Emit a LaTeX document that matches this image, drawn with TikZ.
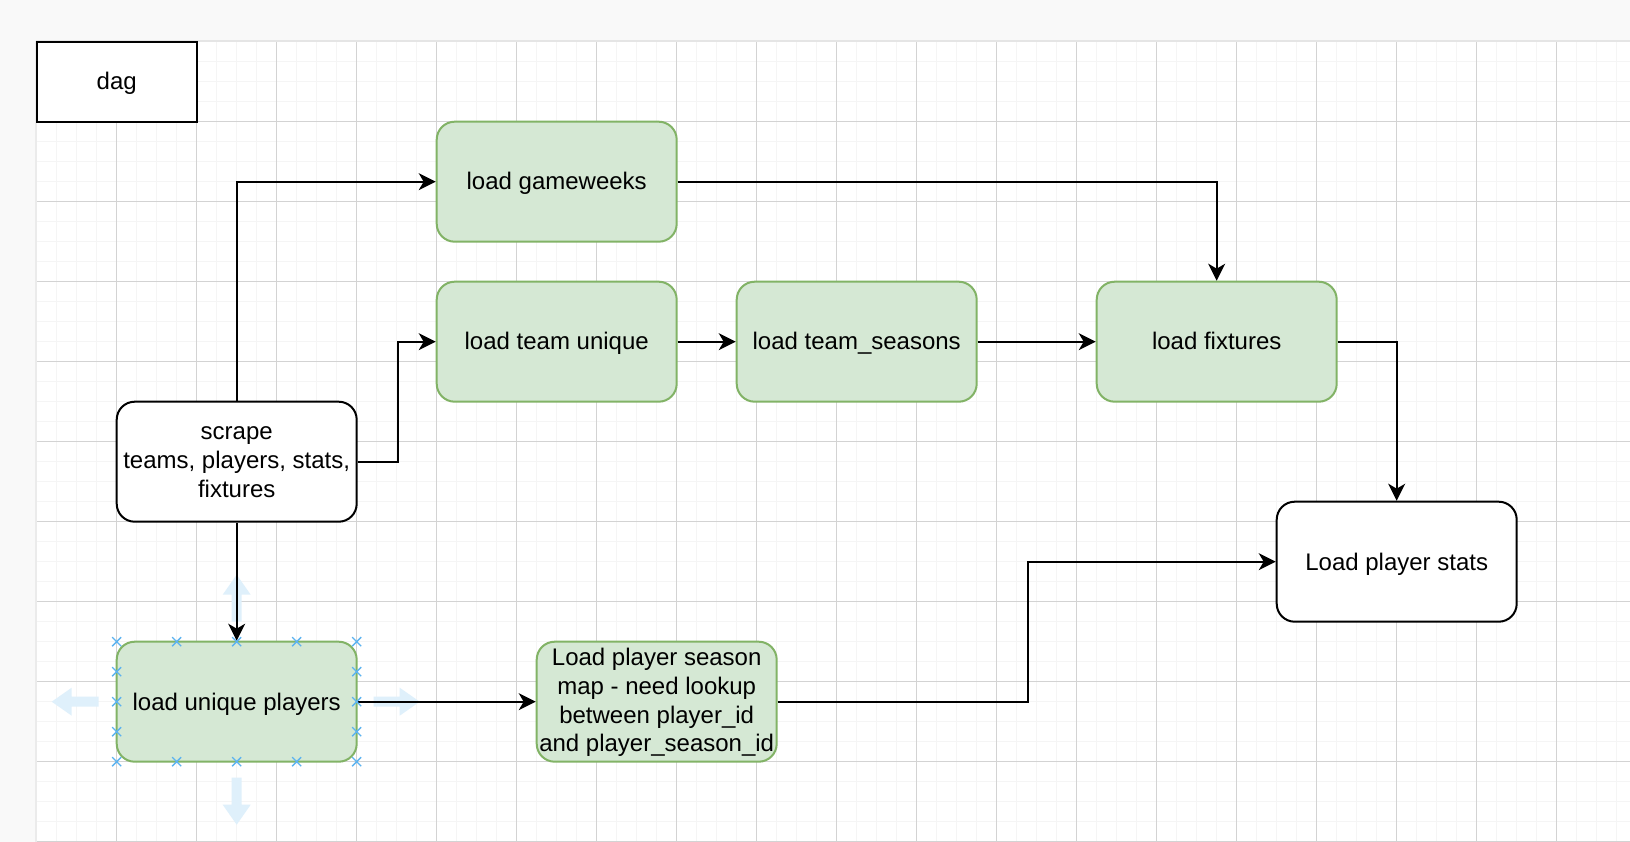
\documentclass[tikz,border=0pt]{standalone}
\usepackage{fontspec}
\setmainfont{Liberation Sans}
\usepackage{tikz}
\usetikzlibrary{arrows.meta}

\definecolor{loadgreen}{HTML}{D5E8D4}
\definecolor{loadborder}{HTML}{82B366}
\definecolor{handleblue}{HTML}{5CB3F0}
\definecolor{hintblue}{HTML}{DFF0FB}
\definecolor{pagegrey}{HTML}{F9F9F9}
\definecolor{gridmajor}{HTML}{D3D3D3}
\definecolor{gridminor}{HTML}{F5F5F5}

\newcommand{\toplinestrut}{\rule{0pt}{20pt}}

\begin{document}
\begin{tikzpicture}[x=1pt, y=-1pt,
	task/.style={draw=black, fill=white, line width=2pt, rounded corners=18pt, minimum width=240pt, minimum height=120pt, align=center, inner sep=2pt, font=\fontsize{24}{28.8}\selectfont,
		execute at begin node={\rule{0pt}{22.7pt}}, execute at end node={\rule[-6.1pt]{0pt}{6.1pt}}},
	loadtask/.style={task, draw=loadborder, fill=loadgreen},
	manylines/.style={inner sep=0pt, execute at begin node={}},
	flow/.style={line width=2pt, -{Stealth[length=17pt, width=17pt, inset=5pt]}},
	hint/.style={fill=hintblue, draw=none},
	handle/.style={handleblue, line width=1.4pt}]
	\useasboundingbox (-36.7,-41.7) rectangle (1593.3,800.3);
	% page and grid
	\fill[pagegrey] (-36.7,-41.7) rectangle (1593.3,800.3);
	\fill[white] (0,0) rectangle (1593.3,800.3);
	\draw[gridminor, line width=1pt, step=20pt] (0,0) grid (1593.3,800);
	\draw[gridmajor, line width=1pt, step=80pt] (0,0) grid (1593.3,800);
	\draw[black!10, line width=1.5pt] (-0.8,-0.8) -- (1593.3,-0.8);
	\draw[black!8, line width=1.5pt] (-0.8,-0.8) -- (-0.8,800.3);
	% tasks
	\node[task, rounded corners=0pt, minimum width=160pt, minimum height=80pt] (dag) at (80,40) {dag};
	\node[loadtask] (gameweeks) at (520,140) {load gameweeks};
	\node[loadtask] (teamunique) at (520,300) {load team unique};
	\node[loadtask] (teamseasons) at (820,300) {load team\_seasons};
	\node[loadtask] (fixtures) at (1180,300) {load fixtures};
	\node[task, manylines] (scrape) at (200,420) {\toplinestrut scrape\\teams, players, stats,\\fixtures};
	\node[task] (playerstats) at (1360,520) {Load player stats};
	\node[loadtask] (uniqueplayers) at (200,660) {load unique players};
	\node[loadtask, manylines] (seasonmap) at (620,660) {\toplinestrut Load player season\\map - need lookup\\between player\_id\\and player\_season\_id};
	% selection hints
	\fill[hint] (195,580) -- (195,553) -- (186,553) -- (200,533) -- (214,553) -- (205,553) -- (205,580) -- cycle;
	\fill[hint] (195,736) -- (195,763) -- (186,763) -- (200,783) -- (214,763) -- (205,763) -- (205,736) -- cycle;
	\fill[hint] (62,655) -- (35,655) -- (35,646) -- (15,660) -- (35,674) -- (35,665) -- (62,665) -- cycle;
	\fill[hint] (337,655) -- (363,655) -- (363,646) -- (383,660) -- (363,674) -- (363,665) -- (337,665) -- cycle;
	% flows
	\draw[flow] (scrape.north) |- (gameweeks.west);
	\draw[flow] (scrape.east) -- ++(40,0) |- (teamunique.west);
	\draw[flow] (teamunique.east) -- (teamseasons.west);
	\draw[flow] (teamseasons.east) -- (fixtures.west);
	\draw[flow] (gameweeks.east) -| (fixtures.north);
	\draw[flow] (fixtures.east) -| (playerstats.north);
	\draw[flow] (scrape.south) -- (uniqueplayers.north);
	\draw[flow] (uniqueplayers.east) -- (seasonmap.west);
	\draw[flow] (seasonmap.east) -- ++(250,0) |- (playerstats.west);
	% selection handles
	\foreach \hx/\hy in {80/600, 140/600, 200/600, 260/600, 320/600, 80/720, 140/720, 200/720, 260/720, 320/720, 80/630, 80/660, 80/690, 320/630, 320/660, 320/690}
		\draw[handle] (\hx-4.5,\hy-4.5) -- (\hx+4.5,\hy+4.5) (\hx-4.5,\hy+4.5) -- (\hx+4.5,\hy-4.5);
\end{tikzpicture}
\end{document}
